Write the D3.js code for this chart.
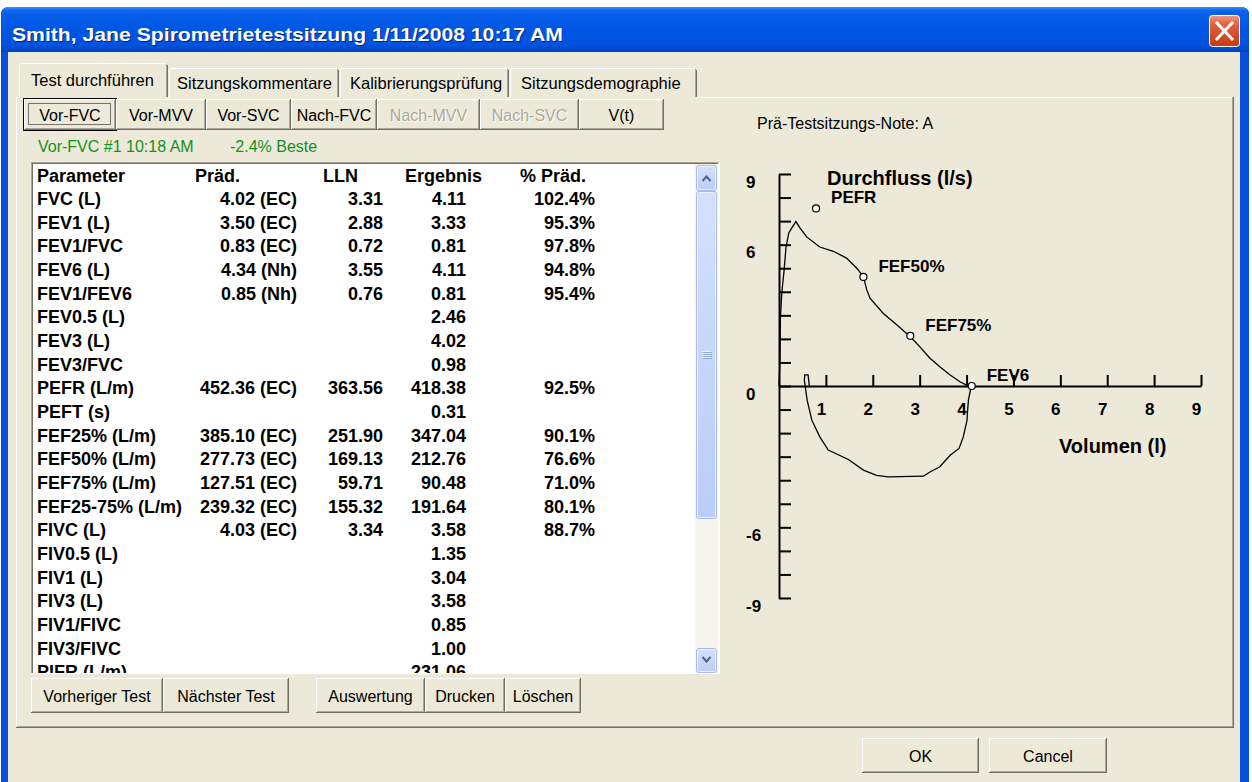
<!DOCTYPE html>
<html>
<head>
<meta charset="utf-8">
<script src="https://cdn.jsdelivr.net/npm/d3@7"></script>
<style>
html, body { margin: 0; padding: 0; background: #fff; overflow: hidden; }
svg { display: block; }
text { font-family: "Liberation Sans", Arial, sans-serif; }
</style>
</head>
<body>
<svg id="win" width="1252" height="782"></svg>
<script>
// ---------- data: result table ----------
var paramNames = ["FVC (L)", "FEV1 (L)", "FEV1/FVC", "FEV6 (L)", "FEV1/FEV6", "FEV0.5 (L)", "FEV3 (L)", "FEV3/FVC",
  "PEFR (L/m)", "PEFT (s)", "FEF25% (L/m)", "FEF50% (L/m)", "FEF75% (L/m)", "FEF25-75% (L/m)", "FIVC (L)",
  "FIV0.5 (L)", "FIV1 (L)", "FIV3 (L)", "FIV1/FIVC", "FIV3/FIVC", "PIFR (L/m)"];
var predValues = [4.02, 3.50, 0.83, 4.34, 0.85, null, null, null, 452.36, null, 385.10, 277.73, 127.51, 239.32, 4.03,
  null, null, null, null, null, null];
var predSource = ["EC", "EC", "EC", "Nh", "Nh", "", "", "", "EC", "", "EC", "EC", "EC", "EC", "EC", "", "", "", "", "", ""];
var llnValues = [3.31, 2.88, 0.72, 3.55, 0.76, null, null, null, 363.56, null, 251.90, 169.13, 59.71, 155.32, 3.34,
  null, null, null, null, null, null];
var resultValues = [4.11, 3.33, 0.81, 4.11, 0.81, 2.46, 4.02, 0.98, 418.38, 0.31, 347.04, 212.76, 90.48, 191.64, 3.58,
  1.35, 3.04, 3.58, 0.85, 1.00, 231.06];
var pctPredValues = [102.4, 95.3, 97.8, 94.8, 95.4, null, null, null, 92.5, null, 90.1, 76.6, 71.0, 80.1, 88.7,
  null, null, null, null, null, null];
var columnHeads = ["Parameter", "Präd.", "LLN", "Ergebnis", "% Präd."];

// ---------- data: flow-volume loop ----------
var expVolume = [0.00, 0.02, 0.03, 0.06, 0.11, 0.15, 0.21, 0.36, 0.45, 0.59, 0.87, 1.16, 1.44, 1.66, 1.80, 1.87, 1.94,
  2.22, 2.51, 2.80, 3.00, 3.22, 3.43, 3.65, 3.86, 4.00, 4.10];
var expFlow = [0.0, 1.1, 2.9, 3.96, 4.94, 5.91, 6.51, 6.98, 6.70, 6.33, 5.90, 5.72, 5.43, 5.00, 4.65, 4.09, 3.73,
  3.09, 2.60, 2.09, 1.67, 1.18, 0.82, 0.47, 0.18, 0.04, 0.0];
var inspVolume = [4.10, 4.04, 4.02, 4.01, 3.93, 3.84, 3.65, 3.43, 3.22, 3.08, 2.33, 2.08, 1.80, 1.48, 1.05, 0.87,
  0.70, 0.60, 0.54, 0.55, 0.62, 0.65];
var inspFlow = [0.0, -0.6, -1.1, -1.45, -2.16, -2.65, -2.94, -3.43, -3.65, -3.83, -3.86, -3.79, -3.57, -3.12, -2.72,
  -2.16, -1.45, -0.6, 0.26, 0.47, 0.47, -0.06];
var markerNames = ["PEFR", "FEF50%", "FEF75%", "FEV6"];
var markerVolume = [0.79, 1.80, 2.80, 4.11];
var markerFlow = [7.54, 4.63, 2.13, 0.0];
var xTickValues = [1, 2, 3, 4, 5, 6, 7, 8, 9];
var yTickLabels = [9, 6, 0, -6, -9];

// ---------- dialog texts ----------
var titleText = "Smith, Jane Spirometrietestsitzung 1/11/2008 10:17 AM";
var tabLabels = ["Test durchführen", "Sitzungskommentare", "Kalibrierungsprüfung", "Sitzungsdemographie"];
var testButtons = ["Vor-FVC", "Vor-MVV", "Vor-SVC", "Nach-FVC", "Nach-MVV", "Nach-SVC", "V(t)"];
var testEnabled = [true, true, true, true, false, false, true];
var bottomButtons = ["Vorheriger Test", "Nächster Test", "Auswertung", "Drucken", "Löschen"];

var BG = "#ECE9D8";
var svg = d3.select("#win");
var defs = svg.append("defs");

function grad(id, stops) {
  var g = defs.append("linearGradient").attr("id", id)
    .attr("x1", 0).attr("y1", 0).attr("x2", 0).attr("y2", 1);
  stops.forEach(function(s) {
    g.append("stop").attr("offset", s[0]).attr("stop-color", s[1]);
  });
}
grad("titleGrad", [[0, "#3D8EF8"], [0.08, "#0C64EA"], [0.4, "#0058E6"], [0.85, "#0052DE"], [1, "#0043C4"]]);
grad("closeGrad", [[0, "#EC9A80"], [0.3, "#E0603C"], [1, "#C23A12"]]);
grad("sbGrad", [[0, "#D4E0FD"], [1, "#BACCF8"]]);

function label(g, str, x, y, o) {
  o = o || {};
  return g.append("text")
    .attr("transform", "translate(" + x + "," + y + ") scale(" + (o.sx || 1) + ",1)")
    .attr("text-anchor", o.anchor || "start")
    .style("font-size", (o.size || 16) + "px")
    .style("font-weight", o.weight || "normal")
    .attr("fill", o.fill || "#000")
    .text(str);
}

function hline(g, x1, x2, y, c) {
  g.append("line").attr("x1", x1).attr("x2", x2).attr("y1", y + 0.5).attr("y2", y + 0.5)
    .attr("stroke", c).attr("stroke-width", 1);
}
function vline(g, x, y1, y2, c) {
  g.append("line").attr("x1", x + 0.5).attr("x2", x + 0.5).attr("y1", y1).attr("y2", y2)
    .attr("stroke", c).attr("stroke-width", 1);
}

// classic raised button
function button(g, x0, x1, y0, y1, text, opts) {
  opts = opts || {};
  var b = g.append("g");
  b.append("rect").attr("x", x0).attr("y", y0).attr("width", x1 - x0).attr("height", y1 - y0).attr("fill", BG);
  hline(b, x0, x1 - 1, y0, "#FFFFFF");
  vline(b, x0, y0, y1 - 1, "#FFFFFF");
  hline(b, x0, x1, y1 - 1, "#716F64");
  vline(b, x1 - 1, y0, y1, "#716F64");
  hline(b, x0 + 1, x1 - 1, y1 - 2, "#ACA899");
  vline(b, x1 - 2, y0 + 1, y1 - 1, "#ACA899");
  if (opts.isDefault) {
    b.append("rect").attr("x", x0 - 0.5).attr("y", y0 - 0.5).attr("width", x1 - x0 + 1).attr("height", y1 - y0 + 1)
      .attr("fill", "none").attr("stroke", "#000");
    b.append("rect").attr("x", x0 + 4.5).attr("y", y0 + 4.5).attr("width", x1 - x0 - 10).attr("height", y1 - y0 - 10)
      .attr("fill", "none").attr("stroke", "#000").attr("stroke-dasharray", "1,1");
  }
  var cx = (x0 + x1) / 2, by = (y0 + y1) / 2 + 6;
  if (opts.disabled) {
    label(b, text, cx + 1, by + 1, {anchor: "middle", fill: "#FFFFFF", size: opts.size});
    label(b, text, cx, by, {anchor: "middle", fill: "#ACA899", size: opts.size});
  } else {
    label(b, text, cx, by, {anchor: "middle", size: opts.size});
  }
  return b;
}

// ---------- window frame ----------
svg.append("rect").attr("x", 0).attr("y", 0).attr("width", 1252).attr("height", 782).attr("fill", "#fff");
svg.append("path").attr("d", "M1,52 L1,15 Q1,7 9,7 L1241,7 Q1249,7 1249,15 L1249,782 L1,782 Z").attr("fill", "#0A4FDC");
svg.append("path").attr("d", "M1,52 L1,15 Q1,7 9,7 L1241,7 Q1249,7 1249,15 L1249,52 Z").attr("fill", "url(#titleGrad)");
svg.append("rect").attr("x", 8).attr("y", 52).attr("width", 1232).attr("height", 730).attr("fill", BG);

var title = svg.append("g");
label(title, titleText, 13, 42, {size: 19, weight: "bold", fill: "#0A1E7A"}).attr("textLength", 551).attr("lengthAdjust", "spacingAndGlyphs");
label(title, titleText, 12, 41, {size: 19, weight: "bold", fill: "#FFFFFF"}).attr("textLength", 551).attr("lengthAdjust", "spacingAndGlyphs");

// close button
title.append("rect").attr("x", 1209.5).attr("y", 15.5).attr("width", 30).attr("height", 31).attr("rx", 3)
  .attr("fill", "url(#closeGrad)").attr("stroke", "#FFFFFF").attr("stroke-width", 1);
title.append("path").attr("d", "M1217,23 L1232,39 M1232,23 L1217,39")
  .attr("stroke", "#FFFFFF").attr("stroke-width", 3).attr("stroke-linecap", "square");

// ---------- tab control ----------
var ui = svg.append("g");
var tabX = [19, 168, 339, 509, 697];
var tabTextX = [31, 177, 350, 521];
// panel
hline(ui, 16, 1233, 97, "#FFFFFF");
vline(ui, 16, 97, 727, "#FFFFFF");
vline(ui, 1232, 97, 727, "#ACA899");
vline(ui, 1233, 97, 728, "#716F64");
hline(ui, 17, 1232, 726, "#ACA899");
hline(ui, 16, 1234, 727, "#716F64");

tabLabels.forEach(function(t, i) {
  var sel = i === 0;
  var x0 = tabX[i] + (sel ? 0 : 1), x1 = tabX[i + 1], top = sel ? 63 : 68;
  var tg = ui.append("g");
  tg.append("rect").attr("x", x0).attr("y", top).attr("width", x1 - x0).attr("height", 98 - top).attr("fill", BG);
  hline(tg, x0 + 2, x1 - 2, top, "#FFFFFF");
  vline(tg, x0, top + 2, sel ? 98 : 97, "#FFFFFF");
  tg.append("line").attr("x1", x0 + 0.5).attr("y1", top + 2).attr("x2", x0 + 2).attr("y2", top + 0.5).attr("stroke", "#FFFFFF");
  vline(tg, x1 - 1, top + 2, 97, "#716F64");
  vline(tg, x1 - 2, top + 1, 97, "#ACA899");
  label(tg, t, tabTextX[i], sel ? 86 : 89, {size: 16.5});
});

// test buttons
var tbX = [24, 116, 206, 291, 377, 480, 579, 664];
testButtons.forEach(function(t, i) {
  button(ui, tbX[i], tbX[i + 1], 99, 130, t, {isDefault: i === 0, disabled: !testEnabled[i], size: 16});
});

label(ui, "Vor-FVC #1 10:18 AM", 38, 152, {size: 16, fill: "#14901E"});
label(ui, "-2.4% Beste", 230, 152, {size: 16, fill: "#14901E"});
label(ui, "Prä-Testsitzungs-Note: A", 757, 129, {size: 16});

// ---------- list box with results ----------
var list = ui.append("g");
list.append("rect").attr("x", 31).attr("y", 162).attr("width", 689).attr("height", 512).attr("fill", "#FFFFFF");
hline(list, 31, 719, 162, "#ACA899");
vline(list, 31, 162, 674, "#ACA899");
hline(list, 32, 718, 163, "#716F64");
vline(list, 32, 163, 673, "#716F64");
hline(list, 31, 720, 673, "#FFFFFF");
vline(list, 719, 162, 674, "#FFFFFF");

defs.append("clipPath").attr("id", "listClip")
  .append("rect").attr("x", 33).attr("y", 164).attr("width", 662).attr("height", 509);

var rowY = d3.scaleLinear().domain([0, paramNames.length]).range([175, 175 + paramNames.length * 23.65]);
var f2 = d3.format(".2f"), f1 = d3.format(".1f");
var rows = list.append("g").attr("clip-path", "url(#listClip)");
var headX = [37, 195, 323, 405, 520];
var colEnd = [null, 297, 383, 466, 595];
var tbl = {size: 18, weight: "bold"};

columnHeads.forEach(function(h, i) { label(rows, h, headX[i], rowY(0) + 6.5, tbl); });

paramNames.forEach(function(p, i) {
  var y = rowY(i + 1) + 6.5;
  label(rows, p, 37, y, tbl);
  if (predValues[i] !== null)
    label(rows, f2(predValues[i]) + " (" + predSource[i] + ")", colEnd[1], y, {size: 18, weight: "bold", anchor: "end"});
  if (llnValues[i] !== null)
    label(rows, f2(llnValues[i]), colEnd[2], y, {size: 18, weight: "bold", anchor: "end"});
  if (resultValues[i] !== null)
    label(rows, f2(resultValues[i]), colEnd[3], y, {size: 18, weight: "bold", anchor: "end"});
  if (pctPredValues[i] !== null)
    label(rows, f1(pctPredValues[i]) + "%", colEnd[4], y, {size: 18, weight: "bold", anchor: "end"});
});

// scrollbar
var sb = list.append("g");
sb.append("rect").attr("x", 695).attr("y", 164).attr("width", 23).attr("height", 509).attr("fill", "#F5F4EE");
function sbBox(y0, h) {
  sb.append("rect").attr("x", 696.5).attr("y", y0 + 0.5).attr("width", 20).attr("height", h).attr("rx", 2.5)
    .attr("fill", "url(#sbGrad)").attr("stroke", "#A9BDEB");
  sb.append("rect").attr("x", 697.5).attr("y", y0 + 1.5).attr("width", 18).attr("height", h - 2).attr("rx", 2)
    .attr("fill", "none").attr("stroke", "#EAF0FE");
}
sbBox(165, 25);
sbBox(191, 327);
sbBox(648, 24);
sb.append("path").attr("d", "M702.5,181 L706.5,176.5 L710.5,181").attr("fill", "none").attr("stroke", "#4D6185").attr("stroke-width", 2);
sb.append("path").attr("d", "M702.5,657 L706.5,661.5 L710.5,657").attr("fill", "none").attr("stroke", "#4D6185").attr("stroke-width", 2);
[351, 353, 355, 357].forEach(function(y) {
  hline(sb, 702, 711, y, "#EEF4FE");
  hline(sb, 703, 712, y + 1, "#8CAAE6");
});

// bottom buttons
var bbX = [[31, 163], [163, 289], [316, 425], [425, 505], [505, 581]];
bottomButtons.forEach(function(t, i) {
  button(ui, bbX[i][0], bbX[i][1], 678, 713, t, {size: 16});
});

button(ui, 862, 979, 738, 773, "OK", {size: 16});
button(ui, 989, 1107, 738, 773, "Cancel", {size: 16});

// ---------- flow-volume chart ----------
var x = d3.scaleLinear().domain([0, 9]).range([779, 1201]);
var y = d3.scaleLinear().domain([-9, 9]).range([598, 174]);
var chart = svg.append("g");

var yAxis = d3.axisRight(y).tickValues(d3.range(-9, 10)).tickSize(12).tickSizeOuter(0).tickFormat("");
var xAxis = d3.axisTop(x).tickValues(xTickValues).tickSize(11).tickSizeOuter(0).tickFormat("");

chart.append("g").attr("transform", "translate(" + x(0) + ",0)").call(yAxis)
  .call(function(g) { g.selectAll("path,line").attr("stroke", "#000").attr("stroke-width", 2); });
chart.append("g").attr("transform", "translate(0," + y(0) + ")").call(xAxis)
  .call(function(g) { g.selectAll("path,line").attr("stroke", "#000").attr("stroke-width", 2); });

yTickLabels.forEach(function(v) {
  label(chart, String(v), 746, y(v) + 13.5, {size: 17, weight: "bold"});
});
xTickValues.forEach(function(v) {
  label(chart, String(v), x(v) - 4.5, y(0) + 29, {size: 17, weight: "bold", anchor: "middle"});
});

label(chart, "Durchfluss (l/s)", 827, 185, {size: 20, weight: "bold"});
label(chart, "Volumen (l)", 1059, 453, {size: 20, weight: "bold"});

var line = d3.line().x(function(d) { return x(d[0]); }).y(function(d) { return y(d[1]); });
var expPts = d3.zip(expVolume, expFlow);
var inspPts = d3.zip(inspVolume, inspFlow);
chart.append("path").attr("d", line(expPts)).attr("fill", "none").attr("stroke", "#000").attr("stroke-width", 1.3);
chart.append("path").attr("d", line(inspPts)).attr("fill", "none").attr("stroke", "#000").attr("stroke-width", 1.3);

markerNames.forEach(function(n, i) {
  var mx = x(markerVolume[i]), my = y(markerFlow[i]);
  chart.append("circle").attr("cx", mx).attr("cy", my).attr("r", 3.5)
    .attr("fill", "#FFFFFF").attr("stroke", "#000").attr("stroke-width", 1.2);
  label(chart, n, mx + 15, my - 5, {size: 17, weight: "bold"});
});
</script>
</body>
</html>
